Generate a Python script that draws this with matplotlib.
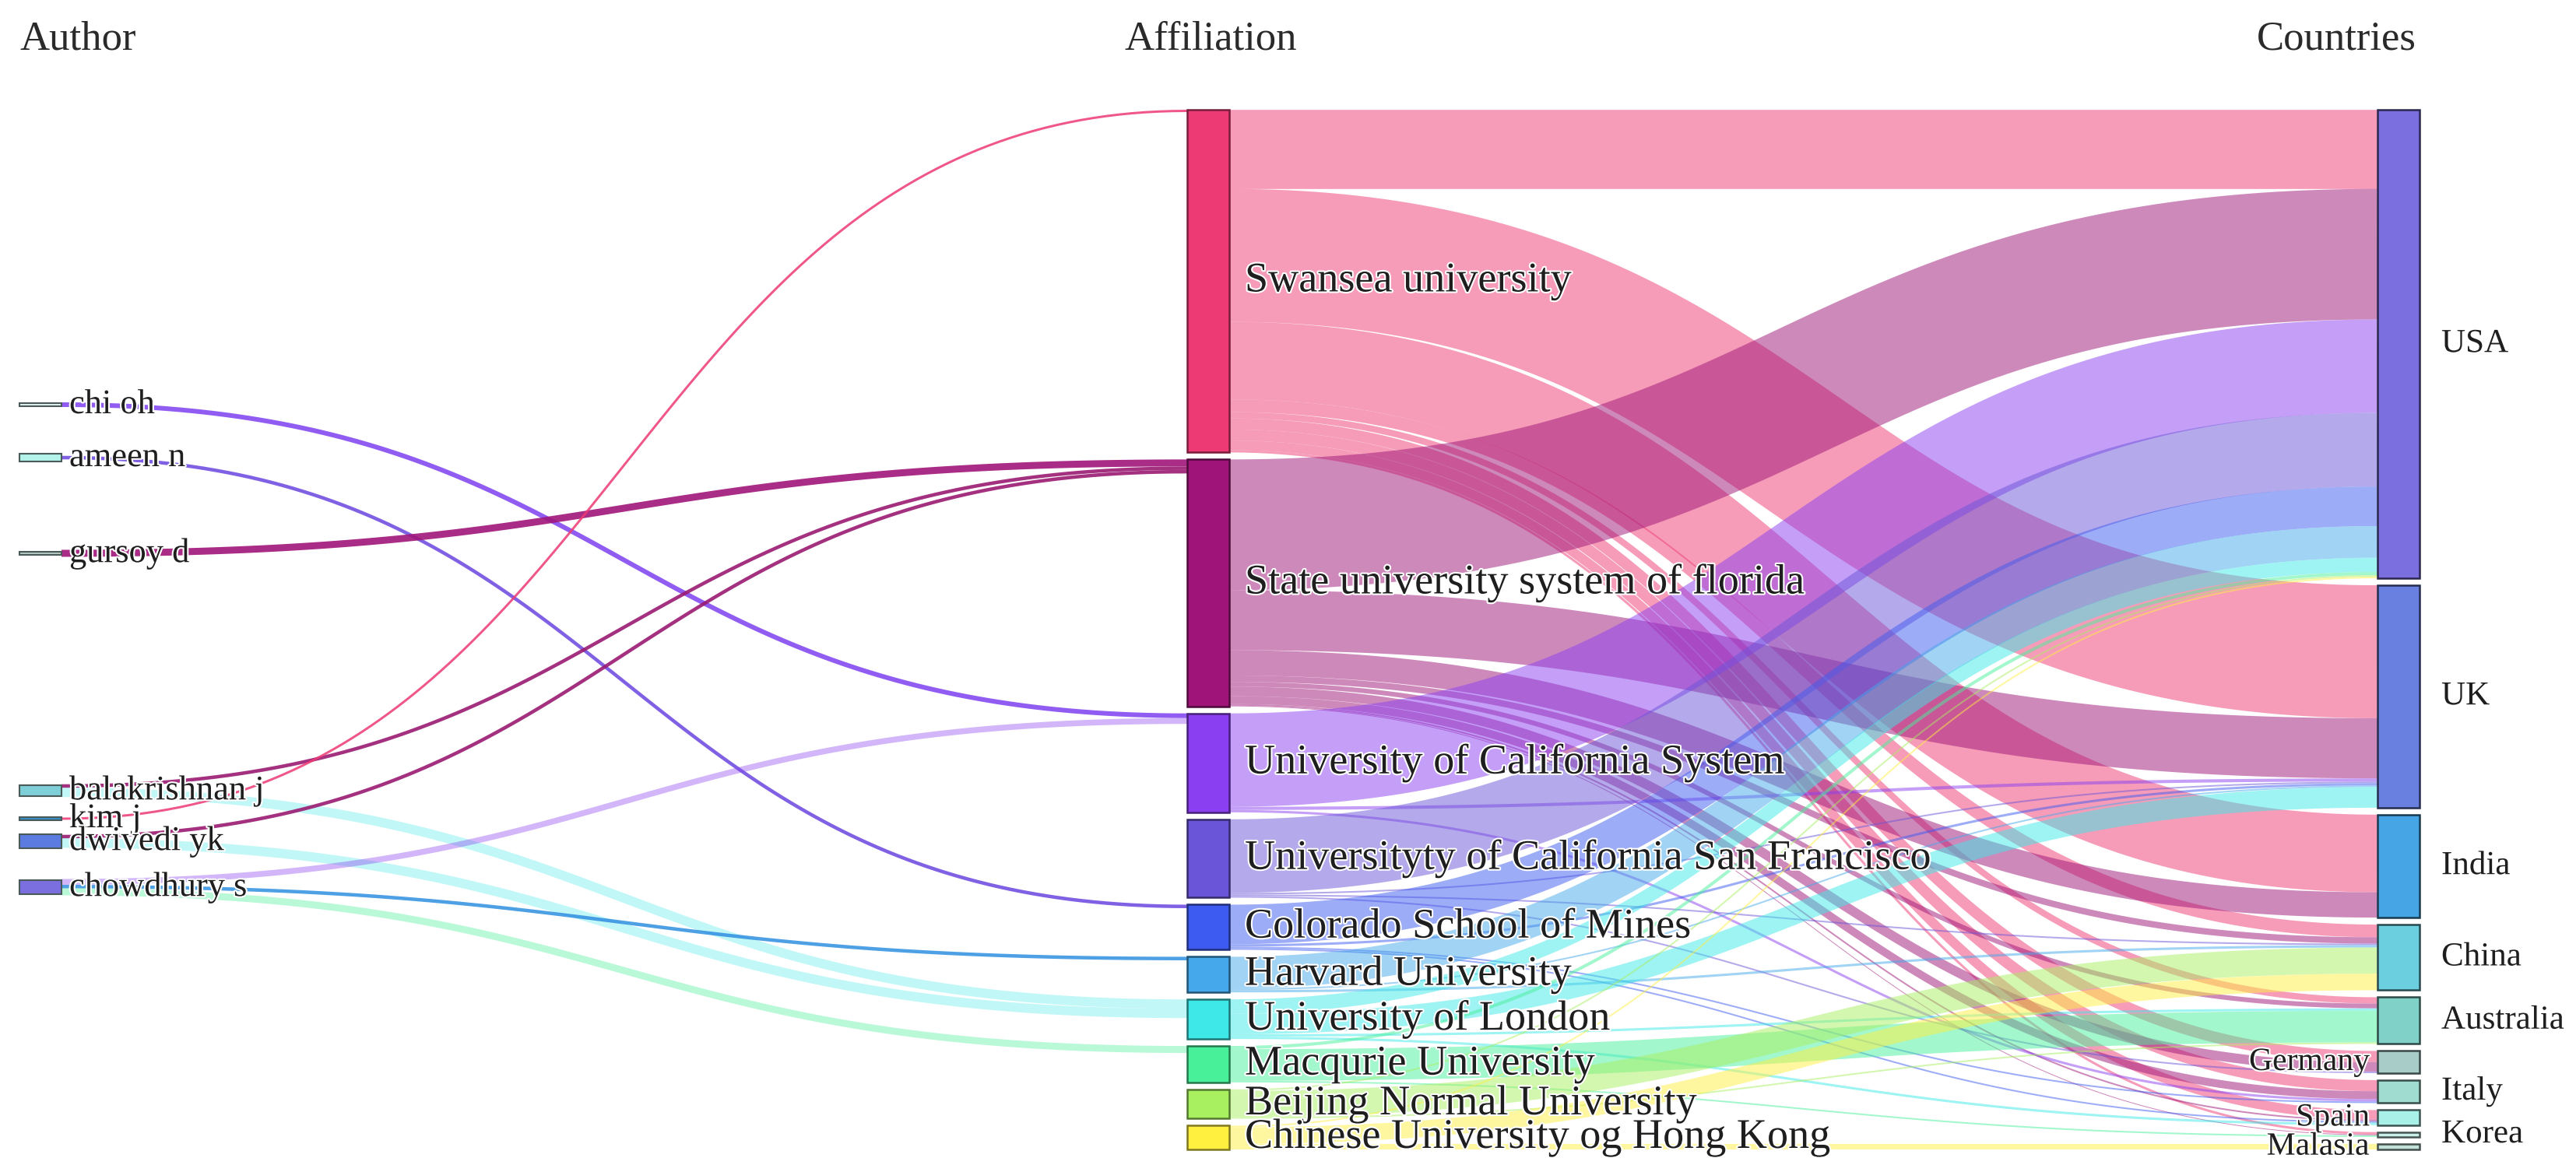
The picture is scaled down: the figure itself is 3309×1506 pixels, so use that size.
import matplotlib
matplotlib.use("Agg")
import matplotlib.pyplot as plt
import matplotlib.patheffects as pe
import matplotlib.colors as mcolors
from matplotlib.patches import Rectangle
import numpy as np

# ---------------- data ----------------
authors = ["chi oh", "ameen n", "gursoy d", "balakrishnan j", "kim j", "dwivedi yk", "chowdhury s"]
author_values = [1, 2, 1, 3, 1, 4, 4]

affiliations = ["Swansea university", "State university system of florida",
                "University of California System", "Universityty of California San Francisco",
                "Colorado School of Mines", "Harvard University", "University of London",
                "Macqurie University", "Beijing Normal University", "Chinese University og Hong Kong"]

countries = ["USA", "UK", "India", "China", "Australia", "Germany", "Italy", "Spain", "Korea", "Malasia"]

# author -> affiliation links
author_link_src = ["chi oh", "ameen n", "gursoy d", "balakrishnan j", "balakrishnan j", "kim j",
                   "dwivedi yk", "dwivedi yk", "chowdhury s", "chowdhury s", "chowdhury s"]
author_link_tgt = ["University of California System", "Colorado School of Mines",
                   "State university system of florida", "State university system of florida",
                   "University of London", "Swansea university",
                   "State university system of florida", "University of London",
                   "University of California System", "Harvard University", "Macqurie University"]
author_link_val = [2, 1.5, 3, 1.5, 4, 1, 1.5, 4, 2.5, 1.5, 3]

# affiliation -> country flows (order of `countries`)
flows_swansea  = [100, 168, 98, 16, 8, 14, 14, 12, 3, 0]
flows_florida  = [165, 76, 32, 8, 6, 12, 10, 2, 1, 0]
flows_ucs      = [118, 4, 0, 0, 0, 0, 3, 0, 0, 0]
flows_ucsf     = [93, 2, 0, 2, 0, 2, 0, 0, 0, 0]
flows_colorado = [50, 3, 0, 0, 0, 0, 2, 2, 0, 0]
flows_harvard  = [40, 2, 0, 3, 0, 0, 0, 0, 0, 0]
flows_london   = [18, 26, 0, 0, 3, 0, 0, 3, 0, 0]
flows_macq     = [4, 0, 0, 0, 40, 0, 0, 0, 2, 0]
flows_beijing  = [2, 0, 0, 33, 2, 0, 0, 0, 0, 0]
flows_chk      = [2, 0, 0, 21, 0, 0, 0, 0, 0, 7]

column_titles = ["Author", "Affiliation", "Countries"]

# ---------------- styles / layout ----------------
author_colors = ["#e6f0ee", "#b2f2ea", "#b9c9c4", "#7fcfd8", "#3a90c8", "#5b7be0", "#7b6fe0"]
aff_colors = ["#ee3a74", "#9e1478", "#8a3ff0", "#6a55d8", "#3d5bf0", "#44a8ea",
              "#3ee8e8", "#48f09a", "#a8f060", "#fff040"]
country_colors = ["#7b6fe0", "#6a80e0", "#45a5e5", "#6ccfe0", "#80d2c8", "#a8ccc8",
                  "#a0ddd0", "#a8f0e8", "#c8f0e8", "#c0e0d8"]
author_link_colors = ["#7d3ff0", "#6a45e0", "#a0157a", "#9a1a72", "#3ee8e8", "#ee3a74",
                      "#9a1a72", "#3ee8e8", "#8a3ff0", "#2f8fe0", "#48f09a"]
author_link_alpha = [0.85, 0.85, 0.9, 0.9, 0.32, 0.85, 0.9, 0.32, 0.38, 0.85, 0.38]
country_label_left = ["Germany", "Spain", "Malasia"]

W, H, DPI = 3309, 1506, 100
X_AUTH, X_AFF, X_CTRY = 25, 1525, 3054
NODE_W = 54
TOP, BOTTOM = 141, 1477
PAD = 9
author_center_px = [520, 588, 711, 1016, 1052, 1081, 1140]
AUTH_UNIT_PX = 4.6
AUTH_LINK_PX = 3.0

SERIF = "Liberation Serif"
halo = [pe.withStroke(linewidth=3, foreground="white")]

flows = np.array([flows_swansea, flows_florida, flows_ucs, flows_ucsf, flows_colorado,
                  flows_harvard, flows_london, flows_macq, flows_beijing, flows_chk], dtype=float)
aff_tot = flows.sum(axis=1)
ctry_tot = flows.sum(axis=0)
k = (BOTTOM - TOP - PAD * (len(affiliations) - 1)) / aff_tot.sum()


def stack(values):
    ys, y = [], TOP
    for v in values:
        ys.append(y)
        y += v * k + PAD
    return np.array(ys)


aff_y0 = stack(aff_tot)
ctry_y0 = stack(ctry_tot)


def darker(c, f=0.5):
    r, g, b = mcolors.to_rgb(c)
    return (r * f, g * f, b * f)


def bez(x0, y0, x1, y1, n=120):
    t = np.linspace(0, 1, n)
    xm = (x0 + x1) / 2
    x = (1 - t) ** 3 * x0 + 3 * (1 - t) ** 2 * t * xm + 3 * (1 - t) * t ** 2 * xm + t ** 3 * x1
    y = (1 - t) ** 3 * y0 + 3 * (1 - t) ** 2 * t * y0 + 3 * (1 - t) * t ** 2 * y1 + t ** 3 * y1
    return x, y


fig = plt.figure(figsize=(W / DPI, H / DPI), dpi=DPI)
ax = fig.add_axes([0, 0, 1, 1])
ax.set_xlim(0, W)
ax.set_ylim(H, 0)
ax.axis("off")

# ---------- affiliation -> country links ----------
src_off = aff_y0.copy()
tgt_off = ctry_y0.copy()
link_pos = {}
for i in range(len(affiliations)):
    for j in range(len(countries)):
        v = flows[i, j]
        if v <= 0:
            continue
        link_pos[(i, j)] = [src_off[i] + v * k / 2]
        src_off[i] += v * k
for j in range(len(countries)):
    for i in range(len(affiliations)):
        v = flows[i, j]
        if v <= 0:
            continue
        link_pos[(i, j)].append(tgt_off[j] + v * k / 2)
        tgt_off[j] += v * k

for i in range(len(affiliations)):
    for j in range(len(countries)):
        v = flows[i, j]
        if v <= 0:
            continue
        ys, yt = link_pos[(i, j)]
        x, y = bez(X_AFF + NODE_W, ys, X_CTRY, yt)
        ax.plot(x, y, color=aff_colors[i], alpha=0.5, lw=v * k * 72 / DPI,
                solid_capstyle="butt", zorder=1)

# ---------- author -> affiliation links ----------
auth_idx = {a: n for n, a in enumerate(authors)}
aff_idx = {a: n for n, a in enumerate(affiliations)}
order_src = sorted(range(len(author_link_val)),
                   key=lambda m: (auth_idx[author_link_src[m]], aff_idx[author_link_tgt[m]]))
order_tgt = sorted(range(len(author_link_val)),
                   key=lambda m: (aff_idx[author_link_tgt[m]], auth_idx[author_link_src[m]]))
auth_tot = {}
for m in range(len(author_link_val)):
    auth_tot[author_link_src[m]] = auth_tot.get(author_link_src[m], 0) + author_link_val[m] * AUTH_LINK_PX
a_off = {a: author_center_px[auth_idx[a]] - auth_tot.get(a, 0) / 2 for a in authors}
f_off = {a: aff_y0[aff_idx[a]] for a in affiliations}
ls, lt = {}, {}
for m in order_src:
    w = author_link_val[m] * AUTH_LINK_PX
    a = author_link_src[m]
    ls[m] = a_off[a] + w / 2
    a_off[a] += w
for m in order_tgt:
    w = author_link_val[m] * AUTH_LINK_PX
    f = author_link_tgt[m]
    lt[m] = f_off[f] + w / 2
    f_off[f] += w
for m in range(len(author_link_val)):
    w = author_link_val[m] * AUTH_LINK_PX
    x, y = bez(X_AUTH + NODE_W, ls[m], X_AFF, lt[m])
    ax.plot(x, y, color=author_link_colors[m], alpha=author_link_alpha[m],
            lw=w * 72 / DPI, solid_capstyle="butt", zorder=2)

# ---------- nodes ----------
for n, a in enumerate(authors):
    h = author_values[n] * AUTH_UNIT_PX
    yc = author_center_px[n]
    ax.add_patch(Rectangle((X_AUTH, yc - h / 2), NODE_W, h, facecolor=author_colors[n],
                           edgecolor="#4a5a58", lw=1.5, zorder=3))
    ax.text(X_AUTH + NODE_W + 10, yc, a, fontsize=32, family=SERIF, color="#1e1e1e",
            va="center", ha="left", path_effects=halo, zorder=5)

for n, a in enumerate(affiliations):
    h = aff_tot[n] * k
    ax.add_patch(Rectangle((X_AFF, aff_y0[n]), NODE_W, h, facecolor=aff_colors[n],
                           edgecolor=darker(aff_colors[n], 0.5), lw=1.8, zorder=3))
    ax.text(X_AFF + NODE_W + 20, aff_y0[n] + h / 2, a, fontsize=39, family=SERIF,
            color="#1e1e1e", va="center", ha="left", path_effects=halo, zorder=5)

for n, c in enumerate(countries):
    h = ctry_tot[n] * k
    ax.add_patch(Rectangle((X_CTRY, ctry_y0[n]), NODE_W, h, facecolor=country_colors[n],
                           edgecolor=darker(country_colors[n], 0.35), lw=1.8, zorder=3))
    if c in country_label_left:
        ax.text(X_CTRY - 10, ctry_y0[n] + h / 2, c, fontsize=30, family=SERIF, color="#1e1e1e",
                va="center", ha="right", path_effects=halo, zorder=5)
    else:
        ax.text(X_CTRY + NODE_W + 28, ctry_y0[n] + h / 2, c, fontsize=31, family=SERIF,
                color="#1e1e1e", va="center", ha="left", path_effects=halo, zorder=5)

# ---------- column headers ----------
ax.text(X_AUTH, 63, column_titles[0], fontsize=38, family=SERIF, color="#2a2a2a",
        ha="left", va="baseline")
ax.text(1555, 63, column_titles[1], fontsize=38, family=SERIF, color="#2a2a2a",
        ha="center", va="baseline")
ax.text(3001, 63, column_titles[2], fontsize=38, family=SERIF, color="#2a2a2a",
        ha="center", va="baseline")

fig.savefig("out.png", dpi=DPI, facecolor="white")
